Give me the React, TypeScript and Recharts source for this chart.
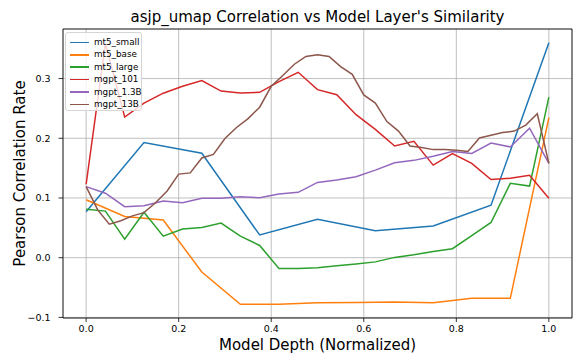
import React from 'react';
import { LineChart, Line, XAxis, YAxis, CartesianGrid, ReferenceArea, Legend } from 'recharts';

const mt5Small = [0.077, 0.193, 0.175, 0.038, 0.0645, 0.045, 0.053, 0.088, 0.36];
const mt5Base = [0.097, 0.069, 0.063, -0.024, -0.078, -0.078, -0.0755, -0.075, -0.074, -0.0755, -0.068, -0.068, 0.2345];
const mt5Large = [0.081, 0.078, 0.031, 0.076, 0.036, 0.048, 0.0505, 0.058, 0.036, 0.0205, -0.018, -0.018, -0.017, -0.0135, -0.0105, -0.007, 0.0005, 0.005, 0.0105, 0.015, 0.037, 0.059, 0.1245, 0.12, 0.269];
const mgpt101 = [0.123, 0.359, 0.2355, 0.259, 0.2755, 0.287, 0.2965, 0.279, 0.276, 0.277, 0.295, 0.3105, 0.2815, 0.273, 0.2395, 0.215, 0.187, 0.195, 0.155, 0.1745, 0.158, 0.131, 0.133, 0.138, 0.0995];
const mgpt13 = [0.119, 0.108, 0.0855, 0.087, 0.095, 0.092, 0.0995, 0.0995, 0.102, 0.1005, 0.1067, 0.1095, 0.126, 0.13, 0.1355, 0.1467, 0.159, 0.163, 0.17, 0.178, 0.1745, 0.192, 0.1855, 0.217, 0.158];
const mgpt13B = [0.119, 0.08, 0.056, 0.062, 0.07, 0.0755, 0.092, 0.1117, 0.14, 0.142, 0.167, 0.173, 0.1995, 0.218, 0.233, 0.252, 0.287, 0.305, 0.324, 0.337, 0.34, 0.337, 0.32, 0.307, 0.2725, 0.259, 0.228, 0.212, 0.187, 0.1845, 0.181, 0.181, 0.18, 0.178, 0.2005, 0.205, 0.2095, 0.212, 0.222, 0.241, 0.158];

const xTicks = [0, 0.2, 0.4, 0.6, 0.8, 1.0];
const yTicks = [-0.1, 0, 0.1, 0.2, 0.3];

const seriesNames = ['mt5_small', 'mt5_base', 'mt5_large', 'mgpt_101', 'mgpt_1.3B', 'mgpt_13B'];
const seriesValues = [mt5Small, mt5Base, mt5Large, mgpt101, mgpt13, mgpt13B];
const colors = ['#1f77b4', '#ff7f0e', '#2ca02c', '#d62728', '#9467bd', '#8c564b'];

const toDepthData = (vals: number[]) => vals.map((v, i) => ({ x: i / (vals.length - 1), v }));

const fmt = (v: number) => {
  const s = (Math.abs(v) < 1e-9 ? 0 : v).toFixed(1);
  return s.replace('-', '\u2212');
};

const FONT = 'DejaVu Sans, sans-serif';

const LegendBox = () => {
  return (
    <div
      style={{
        width: 77,
        height: 79,
        boxSizing: 'border-box',
        background: 'rgba(255,255,255,0.8)',
        border: '1px solid #d5d5d5',
        borderRadius: 3,
        position: 'relative',
        fontFamily: FONT,
        fontSize: 8.8,
        color: '#000',
      }}
    >
      {seriesNames.map((name, i) => (
        <div key={name} style={{ position: 'absolute', left: 0, top: 3 + i * 12.45, height: 12, width: '100%' }}>
          <div style={{ position: 'absolute', left: 4, top: 5.5, width: 19, height: 1.6, background: colors[i] }} />
          <div style={{ position: 'absolute', left: 28, top: 0, lineHeight: '12px', whiteSpace: 'nowrap' }}>{name}</div>
        </div>
      ))}
    </div>
  );
};

export default function App() {
  return (
    <div style={{ position: 'absolute', left: 0, top: 0, width: 575, height: 354, background: '#fff', fontFamily: FONT }}>
      <div
        style={{
          position: 'absolute',
          left: 63,
          width: 509,
          top: 8,
          textAlign: 'center',
          fontSize: 15,
          lineHeight: '18px',
          color: '#000',
          fontFamily: FONT,
        }}
      >
        asjp_umap Correlation vs Model Layer's Similarity
      </div>
      <LineChart width={575} height={354} margin={{ top: 29, right: 3, bottom: 0, left: 0 }}>
        <CartesianGrid stroke="#b0b0b0" strokeWidth={0.8} />
        <XAxis
          dataKey="x"
          type="number"
          domain={[-0.05, 1.05]}
          ticks={xTicks}
          tickFormatter={fmt}
          height={36}
          axisLine={false}
          tickLine={{ stroke: '#000', strokeWidth: 0.8 }}
          tickSize={4}
          tickMargin={3}
          tick={{ fill: '#000', fontSize: 9.5, fontFamily: FONT }}
          allowDataOverflow
          label={{ value: 'Model Depth (Normalized)', position: 'insideBottom', offset: 4.5, fill: '#000', fontSize: 15, fontFamily: FONT }}
        />
        <YAxis
          type="number"
          domain={[-0.101, 0.383]}
          ticks={yTicks}
          tickFormatter={fmt}
          width={63}
          axisLine={false}
          tickLine={{ stroke: '#000', strokeWidth: 0.8 }}
          tickSize={4.5}
          tickMargin={8}
          tick={{ fill: '#000', fontSize: 9.5, fontFamily: FONT }}
          allowDataOverflow
          label={{
            value: 'Pearson Correlation Rate',
            angle: -90,
            position: 'insideLeft',
            offset: 19.5,
            fill: '#000',
            fontSize: 15,
            fontFamily: FONT,
            style: { textAnchor: 'middle' },
          }}
        />
        {seriesValues.map((vals, i) => (
          <Line
            key={seriesNames[i]}
            data={toDepthData(vals)}
            dataKey="v"
            name={seriesNames[i]}
            type="linear"
            stroke={colors[i]}
            strokeWidth={1.5}
            dot={false}
            activeDot={false}
            isAnimationActive={false}
          />
        ))}
        <ReferenceArea
          x1={-0.05}
          x2={1.05}
          y1={-0.101}
          y2={0.383}
          fill="none"
          fillOpacity={0}
          stroke="#000"
          strokeWidth={0.8}
          ifOverflow="visible"
        />
        <Legend
          layout="vertical"
          align="center"
          verticalAlign="middle"
          content={<LegendBox />}
          wrapperStyle={{ position: 'absolute', left: 65, top: 32, width: 77, height: 79 }}
        />
      </LineChart>
    </div>
  );
}
